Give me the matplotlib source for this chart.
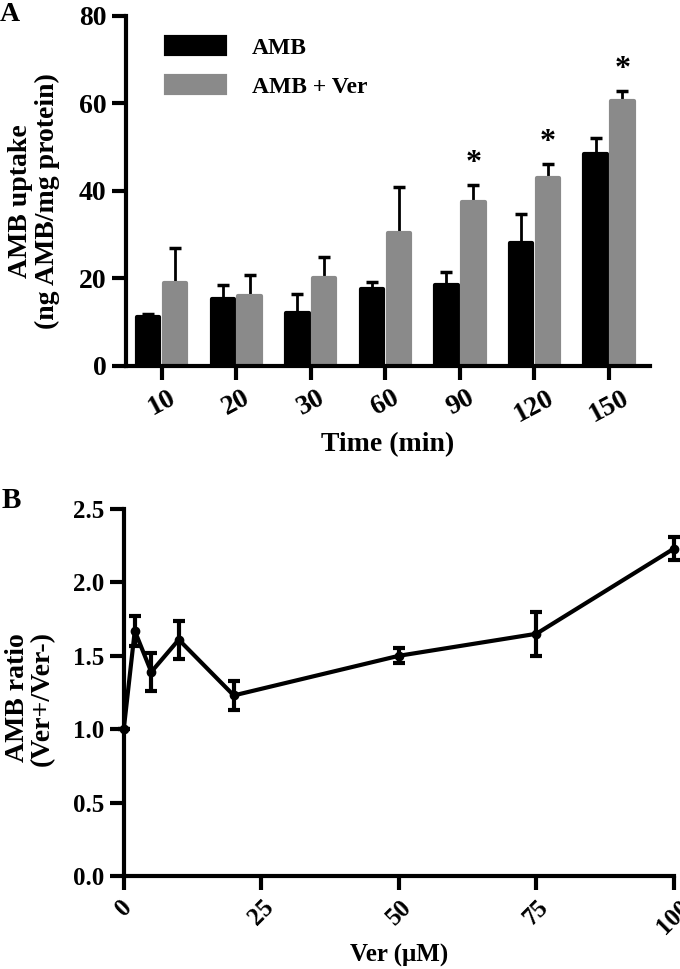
import matplotlib
matplotlib.use("Agg")
import matplotlib.pyplot as plt
import numpy as np

plt.rcParams['font.family'] = ['Liberation Serif', 'DejaVu Serif']
plt.rcParams['font.weight'] = 'bold'

# Panel A data
times = ['10', '20', '30', '60', '90', '120', '150']
amb_mean = [11.3, 15.2, 12.1, 17.5, 18.5, 28.1, 48.4]
amb_err = [0.5, 3.3, 4.4, 1.8, 3.0, 6.6, 3.7]
ver_mean = [19.0, 16.0, 20.1, 30.4, 37.5, 42.9, 60.6]
ver_err = [8.0, 4.8, 4.9, 10.5, 3.9, 3.3, 2.3]
signif = [False, False, False, False, True, True, True]

# Panel B data
ver_conc = [0, 2, 5, 10, 20, 50, 75, 100]
ratio = [1.0, 1.67, 1.39, 1.61, 1.23, 1.50, 1.65, 2.23]
ratio_err = [0.0, 0.10, 0.13, 0.13, 0.10, 0.05, 0.15, 0.08]

black = '#000000'
grey = '#8a8a8a'
lw_axis = 3.0

fig = plt.figure(figsize=(6.8, 9.69), dpi=100)
axA = fig.add_axes([0.185, 0.6223, 0.771, 0.3612])
axB = fig.add_axes([0.182, 0.096, 0.809, 0.3787])


def style_axes(ax, size):
    for s in ['top', 'right']:
        ax.spines[s].set_visible(False)
    for s in ['left', 'bottom']:
        ax.spines[s].set_linewidth(lw_axis)
    ax.tick_params(width=lw_axis, length=10, labelsize=size, pad=4)
    for lab in ax.get_xticklabels() + ax.get_yticklabels():
        lab.set_fontweight('bold')


# --- Panel A ---
x = np.arange(len(times))
w = 0.30
off = 0.18
axA.bar(x - off, amb_mean, w, color=black, edgecolor=black, linewidth=3,
        joinstyle='round', label='AMB', zorder=2)
axA.bar(x + off, ver_mean, w, color=grey, edgecolor=grey, linewidth=3,
        joinstyle='round', label='AMB + Ver', zorder=2)
axA.errorbar(x - off, amb_mean, yerr=[np.zeros(len(x)), amb_err], fmt='none',
             ecolor=black, elinewidth=2, capsize=4, capthick=2.5, zorder=1)
axA.errorbar(x + off, ver_mean, yerr=[np.zeros(len(x)), ver_err], fmt='none',
             ecolor=black, elinewidth=2, capsize=4, capthick=2.5, zorder=1)
for i in range(len(x)):
    if signif[i]:
        axA.text(x[i] + off, ver_mean[i] + ver_err[i] + 1.6, '*', ha='center',
                 va='bottom', fontsize=23, fontweight='bold')

axA.set_xlim(-0.48, 6.55)
axA.set_ylim(0, 80)
axA.set_yticks([0, 20, 40, 60, 80])
axA.set_xticks(x)
axA.set_xticklabels(times, rotation=28, ha='center')
axA.set_xlabel('Time (min)', fontsize=20, fontweight='bold', va='top')
axA.xaxis.set_label_coords(0.5, -0.19)
axA.set_ylabel('AMB uptake\n(ng AMB/mg protein)', fontsize=20, fontweight='bold',
               linespacing=1.1)
axA.yaxis.set_label_coords(-0.126, 0.47)
style_axes(axA, 20)
leg = axA.legend(loc='upper left', bbox_to_anchor=(0.036, 1.0), frameon=False,
                 fontsize=17, handlelength=2.5, handleheight=0.7,
                 labelspacing=0.75, handletextpad=1.15)
for t in leg.get_texts():
    t.set_fontweight('bold')
fig.text(0.0, 0.998, 'A', fontsize=20, fontweight='bold', va='top', ha='left')

# --- Panel B ---
axB.errorbar(ver_conc, ratio, yerr=ratio_err, fmt='o-', color=black, lw=3,
             markersize=6, elinewidth=3, capsize=4, capthick=3, clip_on=False)
axB.set_xlim(0, 100)
axB.set_ylim(0, 2.5)
axB.set_yticks([0.0, 0.5, 1.0, 1.5, 2.0, 2.5])
axB.set_yticklabels(['0.0', '0.5', '1.0', '1.5', '2.0', '2.5'])
axB.set_xticks([0, 25, 50, 75, 100])
axB.set_xticklabels(['0', '25', '50', '75', '100'], rotation=45, ha='center')
axB.set_xlabel('Ver (\u03bcM)', fontsize=18, fontweight='bold', va='top')
axB.xaxis.set_label_coords(0.5, -0.185)
axB.set_ylabel('AMB ratio\n(Ver+/Ver-)', fontsize=20, fontweight='bold',
               linespacing=1.0)
axB.yaxis.set_label_coords(-0.125, 0.485)
style_axes(axB, 18)
fig.text(0.003, 0.497, 'B', fontsize=21, fontweight='bold', va='top', ha='left')

fig.savefig('out.png', dpi=100)
